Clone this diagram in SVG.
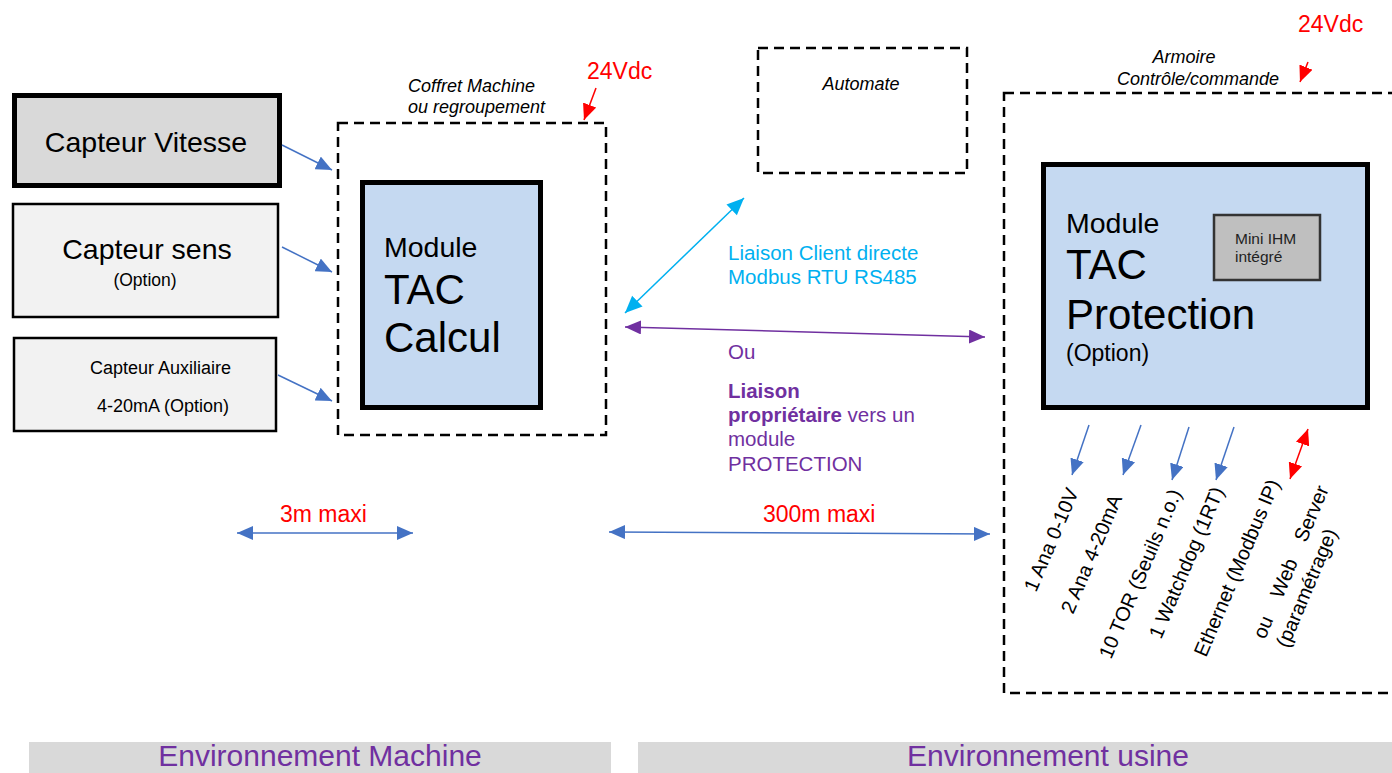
<svg xmlns="http://www.w3.org/2000/svg" width="1392" height="773" viewBox="0 0 1392 773">
<style>
text{font-family:"Liberation Sans",Arial,sans-serif;}
.it{font-style:italic;font-size:18px;fill:#000;}
.red{fill:#ff0000;font-size:23px;}
.dash{fill:none;stroke:#000;stroke-width:2.5;stroke-dasharray:10 6;}
.mod{fill:#c5d9f1;stroke:#000;stroke-width:5;}
.blue{stroke:#4472c4;stroke-width:1.5;fill:none;}
.cyan{stroke:#00b0f0;stroke-width:1.5;fill:none;}
.purple{stroke:#7030a0;stroke-width:1.5;fill:none;}
.redl{stroke:#ff0000;stroke-width:1.5;fill:none;}
.ctext{fill:#00b0f0;font-size:20.5px;}
.ptext{fill:#7030a0;font-size:20.5px;}
.rot{font-size:20px;fill:#000;}
.env{fill:#7030a0;font-size:30px;}
</style>
<defs>
<marker id="ab" viewBox="0 0 16 14" refX="16" refY="7" markerWidth="16" markerHeight="14" markerUnits="userSpaceOnUse" orient="auto-start-reverse"><path d="M0,0 L16,7 L0,14 z" fill="#4472c4"/></marker>
<marker id="ac" viewBox="0 0 16 14" refX="16" refY="7" markerWidth="18" markerHeight="15" markerUnits="userSpaceOnUse" orient="auto-start-reverse"><path d="M0,0 L16,7 L0,14 z" fill="#00b0f0"/></marker>
<marker id="ap" viewBox="0 0 16 14" refX="16" refY="7" markerWidth="16" markerHeight="14" markerUnits="userSpaceOnUse" orient="auto-start-reverse"><path d="M0,0 L16,7 L0,14 z" fill="#7030a0"/></marker>
<marker id="ar" viewBox="0 0 16 14" refX="16" refY="7" markerWidth="16" markerHeight="14" markerUnits="userSpaceOnUse" orient="auto-start-reverse"><path d="M0,0 L16,7 L0,14 z" fill="#ff0000"/></marker>
</defs>

<g id="capteur-vitesse">
<rect x="14.5" y="95.5" width="265" height="90" fill="#d9d9d9" stroke="#000" stroke-width="5"/>
<text x="146" y="152" font-size="28.5" text-anchor="middle">Capteur Vitesse</text>
</g>
<g id="capteur-sens">
<rect x="13" y="204" width="265" height="113" fill="#f2f2f2" stroke="#000" stroke-width="2.5"/>
<text x="147" y="259" font-size="28.5" text-anchor="middle">Capteur sens</text>
<text x="145" y="286" font-size="17.5" text-anchor="middle">(Option)</text>
</g>
<g id="capteur-aux">
<rect x="14" y="338" width="262" height="93" fill="#f2f2f2" stroke="#000" stroke-width="2.5"/>
<text x="90" y="374" font-size="18">Capteur Auxiliaire</text>
<text x="97" y="412" font-size="18">4-20mA (Option)</text>
</g>

<g id="coffret">
<rect class="dash" x="338" y="123" width="268" height="312"/>
<text class="it" x="408" y="92">Coffret Machine</text>
<text class="it" x="408" y="113">ou regroupement</text>
<text class="red" x="587" y="79">24Vdc</text>
</g>
<g id="module-calcul">
<rect class="mod" x="362.5" y="182.5" width="178" height="225"/>
<text x="384" y="257" font-size="28.5">Module</text>
<text x="384" y="304" font-size="42">TAC</text>
<text x="384" y="352" font-size="42">Calcul</text>
</g>

<g id="automate">
<rect class="dash" x="758" y="48" width="209" height="125"/>
<text class="it" x="861" y="90" text-anchor="middle">Automate</text>
</g>

<g id="armoire">
<rect class="dash" x="1004" y="93" width="420" height="600"/>
<text class="it" x="1184" y="63" text-anchor="middle">Armoire</text>
<text class="it" x="1198" y="85" text-anchor="middle">Contrôle/commande</text>
<text class="red" x="1298" y="32">24Vdc</text>
</g>
<g id="module-protection">
<rect class="mod" x="1043.5" y="164.5" width="324" height="243"/>
<text x="1066" y="233" font-size="28.5">Module</text>
<text x="1066" y="279" font-size="42">TAC</text>
<text x="1066" y="329" font-size="42">Protection</text>
<text x="1066" y="361" font-size="23">(Option)</text>
</g>
<g id="mini-ihm">
<rect x="1214" y="215" width="106" height="65" fill="#bfbfbf" stroke="#333" stroke-width="2.5"/>
<text x="1235" y="244" font-size="15.5" fill="#222">Mini IHM</text>
<text x="1235" y="262" font-size="15.5" fill="#222">intégré</text>
</g>

<g id="labels">
<text class="ctext" x="728" y="260">Liaison Client directe</text>
<text class="ctext" x="728" y="284">Modbus RTU RS485</text>
<text class="ptext" x="728" y="359">Ou</text>
<text class="ptext" x="728" y="398" font-weight="bold">Liaison</text>
<text class="ptext" x="728" y="422"><tspan font-weight="bold">propriétaire</tspan> vers un</text>
<text class="ptext" x="728" y="446">module</text>
<text class="ptext" x="728" y="471">PROTECTION</text>
<text class="red" x="280" y="522" font-size="22">3m maxi</text>
<text class="red" x="763" y="522">300m maxi</text>
</g>

<g id="io-labels">
<text class="rot" transform="translate(1036,593) rotate(-67)">1 Ana 0-10V</text>
<text class="rot" transform="translate(1073,615) rotate(-67)">2 Ana 4-20mA</text>
<text class="rot" transform="translate(1111,660) rotate(-67)">10 TOR (Seuils n.o.)</text>
<text class="rot" transform="translate(1161,640) rotate(-67)">1 Watchdog (1RT)</text>
<text class="rot" transform="translate(1206,658) rotate(-67)">Ethernet (Modbus IP)</text>
<g transform="translate(1265,640) rotate(-67)">
<text class="rot" x="0" y="0">ou</text>
<text class="rot" x="44" y="0">Web</text>
<text class="rot" x="105" y="0">Server</text>
</g>
<text class="rot" transform="translate(1288,649) rotate(-67)">(paramétrage)</text>
</g>

<g id="connectors">
<line class="blue" x1="282" y1="145" x2="332" y2="170" marker-end="url(#ab)"/>
<line class="blue" x1="282" y1="247" x2="332" y2="272" marker-end="url(#ab)"/>
<line class="blue" x1="278" y1="375" x2="332" y2="401" marker-end="url(#ab)"/>
<line class="redl" x1="596" y1="88" x2="584" y2="120" marker-end="url(#ar)"/>
<line class="redl" x1="1308" y1="62" x2="1300" y2="82" marker-end="url(#ar)"/>
<line class="cyan" x1="625" y1="313" x2="744" y2="198" marker-start="url(#ac)" marker-end="url(#ac)"/>
<line class="purple" x1="625" y1="327" x2="985" y2="337" marker-start="url(#ap)" marker-end="url(#ap)"/>
<line class="blue" x1="237" y1="533" x2="413" y2="533" marker-start="url(#ab)" marker-end="url(#ab)"/>
<line class="blue" x1="609" y1="532" x2="990" y2="534" marker-start="url(#ab)" marker-end="url(#ab)"/>
<line class="blue" x1="1089" y1="425" x2="1072" y2="475" marker-end="url(#ab)"/>
<line class="blue" x1="1141" y1="425" x2="1123" y2="475" marker-end="url(#ab)"/>
<line class="blue" x1="1189" y1="427" x2="1172" y2="480" marker-end="url(#ab)"/>
<line class="blue" x1="1234" y1="427" x2="1216" y2="480" marker-end="url(#ab)"/>
<line class="redl" x1="1308" y1="429" x2="1290" y2="479" marker-start="url(#ar)" marker-end="url(#ar)"/>
</g>

<g id="env-machine">
<rect x="29" y="742" width="582" height="40" fill="#d9d9d9"/>
<text class="env" x="320" y="766" text-anchor="middle">Environnement Machine</text>
</g>
<g id="env-usine">
<rect x="638" y="742" width="760" height="40" fill="#d9d9d9"/>
<text class="env" x="1048" y="766" text-anchor="middle">Environnement usine</text>
</g>
</svg>
